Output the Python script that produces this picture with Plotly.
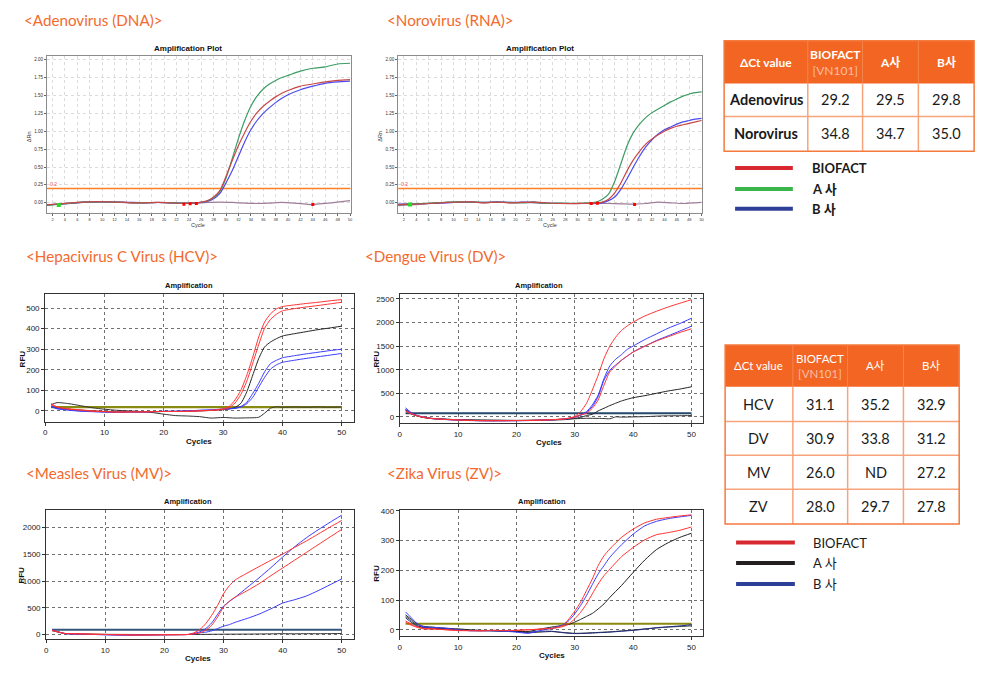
import plotly.graph_objects as go

W, H = 1000, 677
OFF_X, OFF_Y = 8, 8   # page body margin of the browser
def X(px): return (px - OFF_X) / W
def Y(py): return 1 - (py - OFF_Y) / H

ORANGE = "#f26522"
SANS = "Lato, 'Noto Sans CJK KR', sans-serif"
ARIAL = "'Liberation Sans', Arial, sans-serif"

# ---------------- data ----------------
# Adenovirus (DNA) – delta Rn
adv_cyc = [1,3,5,7,9,11,13,15,17,19,21,23,25,26,27,28,29,30,31,32,33,34,35,36,37,38,39,40,42,44,46,48,50]
adv_red = [-0.03,-0.015,0.0,0.01,0.015,0.012,0.008,0.0,0.0,0.005,0.0,-0.008,0.0,0.01,0.03,0.08,0.17,0.37,0.59,0.8,0.98,1.14,1.26,1.35,1.42,1.48,1.53,1.57,1.63,1.66,1.69,1.71,1.72]
adv_green = [-0.035,-0.02,-0.005,0.008,0.012,0.01,0.006,0.002,0.0,0.004,0.0,-0.005,0.0,0.008,0.025,0.07,0.16,0.35,0.62,0.9,1.15,1.35,1.49,1.59,1.66,1.71,1.75,1.78,1.84,1.88,1.9,1.94,1.95]
adv_blue = [-0.03,-0.018,-0.004,0.01,0.014,0.012,0.01,0.005,0.002,0.004,0.0,-0.006,0.0,0.006,0.02,0.055,0.13,0.28,0.45,0.65,0.85,1.02,1.15,1.25,1.33,1.40,1.46,1.51,1.58,1.63,1.67,1.69,1.70]
adv_ntc_cyc = [1,3,5,7,9,11,13,15,17,19,21,23,25,27,29,31,33,35,37,39,41,43,44,45,47,49,50]
adv_ntc = [-0.035,-0.02,-0.01,0.005,0.01,0.012,0.005,-0.005,0.0,0.005,0.0,-0.01,-0.005,0.005,0.01,0.005,-0.005,-0.01,-0.005,0.005,-0.005,-0.02,-0.025,-0.015,0.0,0.02,0.03]
adv_mark_x = [23.2, 24.2, 25.2, 44.0]
adv_mark_y = [-0.02, -0.015, -0.01, -0.025]

# Norovirus (RNA) – delta Rn
nor_cyc = [1,3,5,7,9,11,13,15,17,19,21,23,25,27,29,31,33,34,35,36,37,38,39,40,41,42,43,44,45,46,47,48,49,50]
nor_green = [-0.03,-0.02,-0.01,0.0,0.008,0.012,0.01,0.005,0.01,0.005,0.0,0.008,-0.01,-0.005,-0.008,-0.005,
             0.01,0.05,0.12,0.3,0.55,0.8,0.98,1.1,1.19,1.26,1.31,1.36,1.41,1.45,1.49,1.52,1.54,1.55]
nor_red = [-0.025,-0.02,-0.015,-0.005,0.005,0.01,0.012,0.0,0.01,0.0,0.005,0.01,0.0,-0.01,-0.012,-0.008,
           -0.005,0.01,0.05,0.14,0.28,0.45,0.6,0.72,0.82,0.89,0.95,1.0,1.04,1.07,1.09,1.11,1.13,1.15]
nor_blue = [-0.02,-0.015,-0.012,-0.008,0.0,0.008,0.01,0.005,0.012,0.005,0.008,0.01,-0.005,-0.01,-0.01,-0.01,
            -0.01,0.0,0.03,0.08,0.19,0.34,0.5,0.65,0.78,0.88,0.96,1.02,1.06,1.1,1.13,1.15,1.17,1.18]
nor_ntc_cyc = [1,3,5,7,9,11,13,15,17,19,21,23,25,27,29,31,33,35,37,39,41,43,45,47,49,50]
nor_ntc = [-0.04,-0.03,-0.02,-0.005,0.005,0.01,0.01,0.0,0.01,0.0,0.005,0.0,-0.01,-0.005,-0.01,-0.01,-0.005,-0.01,-0.015,-0.02,-0.01,0.01,0.0,-0.01,0.0,0.005]
nor_mark_x = [32.2, 33.2, 39.2]
nor_mark_y = [-0.01, -0.005, -0.025]

# HCV – RFU
hcv_cyc = [1,2,4,6,8,10,12,14,16,18,20,22,24,26,28,29,30,31,32,33,34,35,36,37,38,39,40,42,44,46,48,50]
hcv_red1 = [35,20,10,5,0,-3,-6,-5,-5,-4,-3,-3,-2,0,3,6,10,21,53,101,174,262,359,432,472,496,507,515,522,528,535,541]
hcv_red2 = [30,18,8,3,-2,-4,-6,-5,-5,-4,-3,-3,-2,0,2,4,7,15,38,80,145,232,322,402,445,470,486,497,505,512,520,528]
hcv_blk = [20,15,8,3,0,-3,-5,-5,-5,-4,-3,-3,-2,0,2,4,6,9,16,37,93,174,254,311,335,351,364,375,385,395,403,412]
hcv_blue1 = [25,12,5,0,-3,-5,-8,-5,-5,-4,-3,-2,0,3,5,7,9,11,13,21,42,85,134,190,230,246,258,268,277,285,293,300]
hcv_blue2 = [20,10,3,-2,-4,-6,-7,-5,-5,-4,-2,-2,0,2,4,6,8,10,12,19,35,66,115,163,203,224,236,246,255,263,271,279]
hcv_neg_cyc = [1,2,4,6,8,10,12,14,16,18,20,22,24,26,28,30,32,34,36,37,38,39,40,42,44,46,48,50]
hcv_neg = [30,40,35,25,15,8,3,0,-3,-8,-16,-23,-25,-28,-35,-32,-35,-34,-31,-11,13,20,18,19,18,19,18,19]
hcv_thr = 18

# DV – RFU
dv_cyc = [1,2,3,4,5,6,8,10,12,14,16,18,20,22,24,26,28,29,30,31,32,33,34,35,36,37,38,39,40,42,44,46,48,50]
dv_red1 = [120,60,20,-10,-30,-40,-55,-65,-75,-80,-80,-80,-78,-75,-70,-60,-45,-25,10,112,288,569,885,1236,1503,1690,1833,1930,2010,2140,2240,2330,2410,2486]
dv_red2 = [130,70,25,-5,-25,-40,-55,-65,-75,-80,-82,-80,-78,-75,-70,-60,-45,-30,-5,42,77,183,358,674,955,1081,1201,1292,1376,1500,1610,1700,1790,1868]
dv_blue1 = [190,90,30,0,-25,-40,-55,-68,-75,-80,-82,-82,-80,-78,-72,-62,-48,-30,0,42,112,253,463,815,1081,1222,1320,1433,1503,1640,1760,1880,1980,2093]
dv_blue2 = [160,80,25,-5,-28,-42,-58,-68,-78,-82,-85,-82,-80,-78,-72,-62,-50,-35,-5,30,98,218,428,780,990,1100,1201,1290,1376,1500,1620,1720,1820,1924]
dv_blk = [150,70,20,-10,-30,-40,-50,-60,-65,-70,-72,-75,-75,-72,-68,-60,-50,-40,-28,-10,28,56,126,183,239,290,337,375,407,450,500,550,590,639]
dv_neg_cyc = [1,2,4,6,8,10,12,14,16,18,20,22,24,26,28,30,32,34,35,36,37,38,40,42,45,48,50]
dv_neg = [140,60,-10,-35,-50,-60,-65,-68,-70,-72,-75,-75,-72,-68,-60,-40,-30,-32,-35,-40,0,-5,0,5,21,25,28]
dv_thr = 77

# MV – RFU
mv_cyc = [1,2,3,4,6,8,10,12,14,16,18,20,22,24,25,26,27,28,29,30,31,32,34,36,38,40,42,44,46,48,50]
mv_red1 = [80,50,20,15,10,5,0,-5,-8,-10,-8,-5,-5,0,31,93,204,359,545,762,916,1022,1150,1270,1390,1505,1630,1750,1880,2010,2136]
mv_red2 = [75,45,20,15,10,5,0,-5,-8,-10,-8,-5,-5,0,10,31,80,173,328,514,625,700,820,950,1100,1245,1390,1535,1680,1825,1969]
mv_blue1 = [80,50,20,10,5,0,-5,-10,-12,-10,-8,-5,-3,0,20,50,111,217,378,530,620,700,880,1060,1250,1450,1640,1810,1960,2100,2235]
mv_blue2 = [85,50,22,12,5,0,-5,-10,-12,-10,-8,-5,-3,0,10,31,43,68,111,155,185,229,300,380,480,588,650,720,820,930,1040]
mv_neg_cyc = [1,2,3,4,6,10,15,20,25,30,35,38,40,42,44,46,48,50]
mv_neg = [70,45,20,12,8,3,0,-3,0,5,8,12,15,12,15,14,16,18]
mv_thr = 87

# ZV – RFU
zv_cyc = [1,2,3,4,6,8,10,12,14,16,18,20,22,24,26,27,28,29,30,31,32,33,34,35,36,38,40,42,44,46,48,50]
zv_red1 = [25,15,8,3,2,0,-2,-3,-3,-2,-3,-2,0,2,5,8,15,37,63,93,132,171,216,249,272,311,339,360,372,378,383,387]
zv_blue = [60,40,20,10,8,5,0,-3,-3,-3,-5,-8,-12,-3,5,10,17,31,54,82,115,152,188,216,244,286,322,350,365,374,380,385]
zv_red2 = [30,18,10,5,3,0,-3,-3,-4,-2,-3,-2,0,2,4,7,11,20,37,59,87,121,154,182,204,246,277,303,320,327,335,346]
zv_blk = [50,35,20,12,8,5,3,0,-2,-3,-4,-5,-6,2,9,12,15,18,26,35,45,55,70,87,109,149,193,235,270,293,311,325]
zv_neg_cyc = [1,2,3,4,6,8,10,12,14,16,18,20,22,24,26,28,30,32,34,36,38,40,42,44,46,48,50]
zv_neg1 = [40,25,12,8,5,3,0,-3,-3,-4,-5,-5,-8,-5,-5,-10,-13,-12,-10,-8,-5,-2,2,7,10,13,17]
zv_neg2 = [45,30,15,8,5,2,0,-2,-3,-3,-4,-6,-10,-8,-6,-9,-12,-11,-9,-7,-4,-1,3,6,9,11,13]
zv_thr = 20

# tables
t1_header = ["ΔCt value", "BIOFACT", "A사", "B사"]
t1_rows = ["Adenovirus", "Norovirus"]
t1_vals = [["29.2", "29.5", "29.8"], ["34.8", "34.7", "35.0"]]
t2_rows = ["HCV", "DV", "MV", "ZV"]
t2_vals = [["31.1", "35.2", "32.9"], ["30.9", "33.8", "31.2"], ["26.0", "ND", "27.2"], ["28.0", "29.7", "27.8"]]
legend1 = [("BIOFACT", "#d7282f"), ("A 사", "#3ab54a"), ("B 사", "#2e3f98")]
legend2 = [("BIOFACT", "#d7282f"), ("A 사", "#231f20"), ("B 사", "#2e3f98")]

section_titles = [("<Adenovirus (DNA)>", 20, 16), ("<Norovirus (RNA)>", 385, 16),
                  ("<Hepacivirus C Virus (HCV)>", 22, 253), ("<Dengue Virus (DV)>", 362, 253),
                  ("<Measles Virus (MV)>", 22, 472), ("<Zika Virus (ZV)>", 385, 472)]

# ---------------- figure ----------------
fig = go.Figure()

def line(ax, x, y, color, width=1.0, shape="spline"):
    fig.add_trace(go.Scatter(x=x, y=y, mode="lines", xaxis="x" + ax, yaxis="y" + ax,
                             line=dict(color=color, width=width, shape=shape, smoothing=0.6),
                             hoverinfo="skip"))

def hline(ax, xr, yv, color, width):
    fig.add_trace(go.Scatter(x=xr, y=[yv, yv], mode="lines", xaxis="x" + ax, yaxis="y" + ax,
                             line=dict(color=color, width=width), hoverinfo="skip"))

def marks(ax, x, y, color, size):
    fig.add_trace(go.Scatter(x=x, y=y, mode="markers", xaxis="x" + ax, yaxis="y" + ax,
                             marker=dict(color=color, size=size, symbol="square"), hoverinfo="skip"))

TRED, TGRN, TBLU, TNTC = "#c84848", "#3c9c64", "#4b4bf0", "#a07c98"
# plot 1
hline("", [1.08, 50.1], 0.2, "#ff7f27", 1.6)
line("", adv_ntc_cyc, adv_ntc, TNTC, 1.2)
line("", adv_cyc, adv_blue, TBLU, 1.2)
line("", adv_cyc, adv_green, TGRN, 1.2)
line("", adv_cyc, adv_red, TRED, 1.2)
marks("", adv_mark_x, adv_mark_y, "#ff0000", 3)
marks("", [3], [-0.03], "#22dd22", 4)
# plot 2
hline("2", [1.08, 50.1], 0.2, "#ff7f27", 1.6)
line("2", nor_ntc_cyc, nor_ntc, TNTC, 1.2)
line("2", nor_cyc, nor_blue, TBLU, 1.2)
line("2", nor_cyc, nor_green, TGRN, 1.2)
line("2", nor_cyc, nor_red, TRED, 1.2)
marks("2", nor_mark_x, nor_mark_y, "#ff0000", 3)
marks("2", [3], [-0.025], "#22dd22", 4)

BRED, BBLU, BBLK = "#ff3333", "#3c3cff", "#222222"
# HCV
hline("3", [1, 50], hcv_thr, "#8a8a10", 2.2)
line("3", hcv_neg_cyc, hcv_neg, "#333333")
line("3", hcv_cyc, hcv_blk, BBLK)
line("3", hcv_cyc, hcv_blue1, BBLU)
line("3", hcv_cyc, hcv_blue2, BBLU)
line("3", hcv_cyc, hcv_red1, BRED)
line("3", hcv_cyc, hcv_red2, BRED)
# DV
line("4", dv_neg_cyc, dv_neg, "#333333")
hline("4", [1, 50], dv_thr, "#24476a", 2.0)
line("4", dv_cyc, dv_blk, BBLK)
line("4", dv_cyc, dv_blue1, BBLU)
line("4", dv_cyc, dv_blue2, BBLU)
line("4", dv_cyc, dv_red1, BRED)
line("4", dv_cyc, dv_red2, BRED)
# MV
line("5", mv_neg_cyc, mv_neg, "#333333")
hline("5", [1, 50], mv_thr, "#34557c", 2.0)
line("5", mv_cyc, mv_blue2, BBLU)
line("5", mv_cyc, mv_blue1, BBLU)
line("5", mv_cyc, mv_red1, BRED)
line("5", mv_cyc, mv_red2, BRED)
# ZV
hline("6", [1, 50], zv_thr, "#8a8a10", 2.0)
line("6", zv_neg_cyc, zv_neg2, "#333333")
line("6", zv_neg_cyc, zv_neg1, "#1e2a80")
line("6", zv_cyc, zv_blk, BBLK)
line("6", zv_cyc, zv_red2, BRED)
line("6", zv_cyc, zv_blue, BBLU)
line("6", zv_cyc, zv_red1, BRED)

layout = dict(width=W, height=H, margin=dict(l=0, r=0, t=0, b=0),
              paper_bgcolor="white", plot_bgcolor="white", showlegend=False)

def top_axes(n, x0, x1, y0, y1):
    layout["xaxis" + n] = dict(domain=[X(x0), X(x1)], anchor="y" + n, range=[1.08, 50.1],
                               tickvals=list(range(2, 51, 2)), tickfont=dict(size=4, color="#333", family=ARIAL),
                               showgrid=True, gridcolor="#dcdcdc", griddash="dot", gridwidth=1,
                               showline=True, linecolor="#8c8c8c", mirror=True, ticks="outside",
                               ticklen=2, tickcolor="#666", zeroline=False)
    layout["yaxis" + n] = dict(domain=[Y(y1), Y(y0)], anchor="x" + n, range=[-0.14, 2.055],
                               tickvals=[i * 0.25 for i in range(9)],
                               ticktext=["%.2f" % (i * 0.25) for i in range(9)],
                               tickfont=dict(size=4.5, color="#333", family=ARIAL),
                               showgrid=True, gridcolor="#dcdcdc", griddash="dot", gridwidth=1,
                               showline=True, linecolor="#8c8c8c", mirror=True, ticks="outside",
                               ticklen=2, tickcolor="#666", zeroline=False)

def bot_axes(n, x0, x1, y0, y1, yr, yt):
    layout["xaxis" + n] = dict(domain=[X(x0), X(x1)], anchor="y" + n, range=[0, 52],
                               tickvals=[0, 10, 20, 30, 40, 50], tickfont=dict(size=8, color="#222", family=ARIAL),
                               showgrid=True, gridcolor="#707070", griddash="dot", gridwidth=1,
                               showline=True, linecolor="#333", mirror=True, ticks="outside",
                               ticklen=3, tickcolor="#333", zeroline=False)
    layout["yaxis" + n] = dict(domain=[Y(y1), Y(y0)], anchor="x" + n, range=yr,
                               tickvals=yt, tickfont=dict(size=8, color="#222", family=ARIAL),
                               showgrid=True, gridcolor="#707070", griddash="dot", gridwidth=1,
                               showline=True, linecolor="#333", mirror=True, ticks="outside",
                               ticklen=3, tickcolor="#333", zeroline=False)

top_axes("", 45, 350, 52, 210)
top_axes("2", 397.7, 703, 52, 210)
bot_axes("3", 43.3, 353, 291.7, 420, [-52, 568], list(range(0, 501, 100)))
bot_axes("4", 399.3, 704, 291.7, 421.7, [-135, 2605], list(range(0, 2501, 500)))
bot_axes("5", 44.3, 353, 509, 639, [-90, 2330], list(range(0, 2001, 500)))
bot_axes("6", 399.3, 704, 509.3, 636, [-22, 402], list(range(0, 401, 100)))
fig.update_layout(**layout)

ann = []
shapes = []
def text(s, x, y, size, color="#222", family=SANS, xanchor="center", bold=False, angle=0, yanchor="middle"):
    ann.append(dict(text=("<b>%s</b>" % s) if bold else s, x=X(x), y=Y(y), xref="paper", yref="paper",
                    showarrow=False, xanchor=xanchor, yanchor=yanchor, textangle=angle,
                    font=dict(size=size, color=color, family=family)))

# section titles
for s, x, y in section_titles:
    text(s.replace("<", "&lt;").replace(">", "&gt;"), x, y, 15.2, color="#f26a2e", xanchor="left")

# plot titles / axis titles
text("Amplification Plot", 187, 45, 8, color="#111", family=ARIAL, bold=True)
text("Amplification Plot", 540, 45, 8, color="#111", family=ARIAL, bold=True)
text("Cycle", 197, 222, 5.5, color="#333", family=ARIAL)
text("Cycle", 550, 222, 5.5, color="#333", family=ARIAL)
text("ΔRn", 27, 133, 5.5, color="#333", family=ARIAL, angle=-90)
text("ΔRn", 380, 133, 5.5, color="#333", family=ARIAL, angle=-90)
text("0.2", 46, 181, 5, color="#ff5050", family=ARIAL, xanchor="left")
text("0.2", 398.5, 181, 5, color="#ff5050", family=ARIAL, xanchor="left")
for (cx, ty, ly, rx) in [(188, 283, 440, 20), (539, 283, 441, 376), (187, 500, 658, 20), (542, 500, 655, 376)]:
    text("Amplification", cx, ty, 7.5, color="#111", family=ARIAL, bold=True)
    text("Cycles", cx + 10, ly, 8, color="#111", family=ARIAL, bold=True)
    text("RFU", rx, (ty + ly) / 2 - 5, 8, color="#111", family=ARIAL, bold=True, angle=-90)

# table helper
def table(x_edges, y_edges, header, rows, vals, bold_body, head_size, body_size, head_bold):
    xl, xr = x_edges[0], x_edges[-1]
    yt, yb = y_edges[0], y_edges[-1]
    shapes.append(dict(type="rect", xref="paper", yref="paper", x0=X(xl), x1=X(xr), y0=Y(y_edges[1]), y1=Y(yt),
                       fillcolor=ORANGE, line=dict(width=0)))
    for xe in x_edges[1:-1]:
        shapes.append(dict(type="line", xref="paper", yref="paper", x0=X(xe), x1=X(xe), y0=Y(y_edges[1]), y1=Y(yt),
                           line=dict(color="#f4864e", width=1)))
        shapes.append(dict(type="line", xref="paper", yref="paper", x0=X(xe), x1=X(xe), y0=Y(yb), y1=Y(y_edges[1]),
                           line=dict(color="#f7a47c", width=1.5)))
    for ye in y_edges[2:-1]:
        shapes.append(dict(type="line", xref="paper", yref="paper", x0=X(xl), x1=X(xr), y0=Y(ye), y1=Y(ye),
                           line=dict(color="#f7a47c", width=1.5)))
    shapes.append(dict(type="rect", xref="paper", yref="paper", x0=X(xl), x1=X(xr), y0=Y(yb), y1=Y(yt),
                       line=dict(color="#f47a3e", width=1.5)))
    cxs = [(x_edges[i] + x_edges[i + 1]) / 2 for i in range(len(x_edges) - 1)]
    hy = (y_edges[0] + y_edges[1]) / 2
    for i, h in enumerate(header):
        if h == "BIOFACT":
            s = ("<b>BIOFACT</b>" if head_bold else "BIOFACT") + "<br><span style='color:#fbbfa2'>[VN101]</span>"
            text(s, cxs[i], hy, head_size, color="white")
        else:
            text(h, cxs[i], hy, head_size, color="white", bold=head_bold)
    for r, name in enumerate(rows):
        ry = (y_edges[r + 1] + y_edges[r + 2]) / 2
        text(name, cxs[0], ry, body_size, color="#1a1a1a", bold=bold_body)
        for c, v in enumerate(vals[r]):
            text(v, cxs[c + 1], ry, body_size, color="#1a1a1a")

table([725, 809, 864, 920, 976], [37, 80, 113, 148], t1_header, t1_rows, t1_vals, True, 12, 14.5, True)
table([726, 794, 849, 905, 961], [343, 385, 420, 454, 488, 523], t1_header, t2_rows, t2_vals, False, 11.5, 14.5, False)

for i, (lab, col) in enumerate(legend1):
    yy = [165, 186, 206][i]
    shapes.append(dict(type="line", xref="paper", yref="paper", x0=X(736), x1=X(794), y0=Y(yy), y1=Y(yy),
                       line=dict(color=col, width=4)))
    text(lab, 811, yy, 13, color="#1a1a1a", xanchor="left", bold=True)
for i, (lab, col) in enumerate(legend2):
    yy = [541.7, 562.3, 583.3][i]
    shapes.append(dict(type="line", xref="paper", yref="paper", x0=X(737), x1=X(796), y0=Y(yy), y1=Y(yy),
                       line=dict(color=col, width=4)))
    text(lab, 812, yy, 13, color="#1a1a1a", xanchor="left")

fig.update_layout(annotations=ann, shapes=shapes)
fig.write_html("out.html")
